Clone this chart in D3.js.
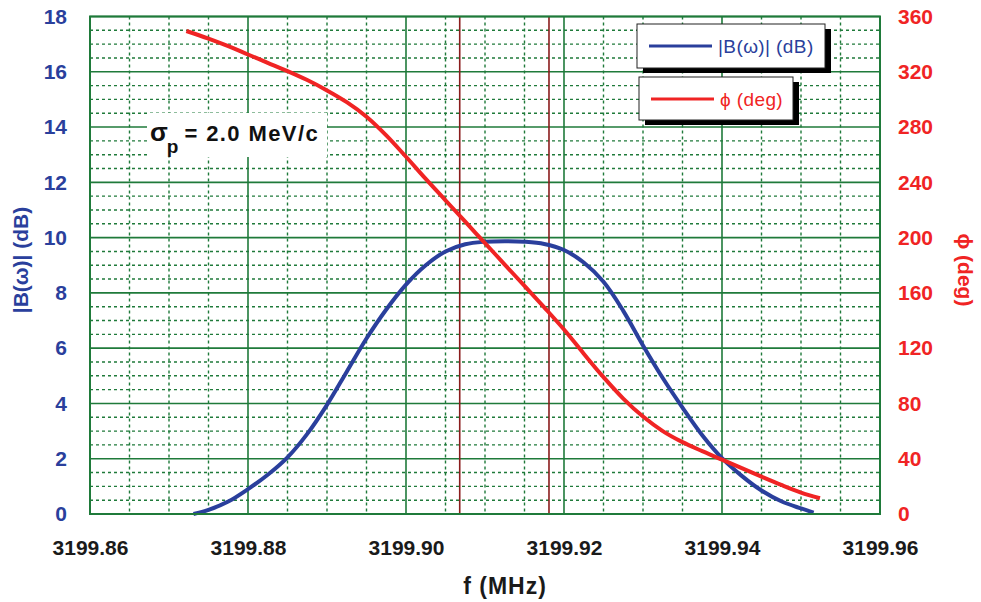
<!DOCTYPE html>
<html><head><meta charset="utf-8">
<script src="https://cdn.jsdelivr.net/npm/d3@7"></script>
<style>
html,body{margin:0;padding:0;background:#fff;}
svg{display:block;}
text{font-family:"Liberation Sans",Arial,sans-serif;}
</style></head>
<body>
<script>
// ---- data ----
const freqB = [3199.8731,3199.875,3199.8775,3199.88,3199.8825,3199.885,3199.8875,3199.89,3199.8925,3199.895,3199.8975,3199.90,3199.9025,3199.905,3199.9075,3199.91,3199.9125,3199.915,3199.9175,3199.92,3199.9225,3199.925,3199.9275,3199.93,3199.9325,3199.935,3199.9375,3199.94,3199.9425,3199.945,3199.9475,3199.95,3199.9516];
const magB  = [0,0.15,0.45,0.9,1.42,2.05,2.9,3.95,5.15,6.35,7.4,8.3,9.0,9.5,9.76,9.85,9.87,9.85,9.77,9.55,9.1,8.4,7.35,6.1,4.92,3.85,2.85,2.02,1.38,0.85,0.46,0.2,0.05];
const freqP = [3199.8722,3199.875,3199.8775,3199.88,3199.8825,3199.885,3199.8875,3199.89,3199.8925,3199.895,3199.8975,3199.90,3199.9025,3199.905,3199.9075,3199.91,3199.9125,3199.915,3199.9175,3199.92,3199.9225,3199.925,3199.9275,3199.93,3199.9325,3199.935,3199.9375,3199.94,3199.9425,3199.945,3199.9475,3199.95,3199.9524];
const phaseP = [349.5,344,338.5,332.5,326.5,320.5,314,306.5,298,287.5,274,258.5,242.5,227,211.5,196,180.5,165,149.5,133.5,116,99,83.5,70.5,60,52,45.5,39.3,33.2,27,21,15.5,11.4];
const markerFreqs = [3199.9068,3199.9181];
const xTicks = [3199.86,3199.88,3199.90,3199.92,3199.94,3199.96];
const yLeftTicks = [0,2,4,6,8,10,12,14,16,18];
const yRightTicks = [0,40,80,120,160,200,240,280,320,360];
const seriesNames = ["|B(\u03c9)| (dB)","\u03d5 (deg)"];
const xTitle = "f (MHz)";
const yLeftTitle = "|B(\u03c9)| (dB)";
const yRightTitle = "\u03d5 (deg)";

// ---- layout ----
const W=981,H=602;
const L=90,R=880,T=16.5,B=514;
const blue="#2a3f9c", red="#f02424", green="#1f7a3a", dark="#8a1c1c";

const svg=d3.select("body").append("svg").attr("width",W).attr("height",H);
const x=d3.scaleLinear().domain([3199.86,3199.96]).range([L,R]);
const yL=d3.scaleLinear().domain([0,18]).range([B,T]);
const yR=d3.scaleLinear().domain([0,360]).range([B,T]);

// minor grid
const g=svg.append("g");
const minorX=d3.range(0,21).map(i=>3199.86+i*0.005).filter((d,i)=>i%4!==0);
const minorY=d3.range(0,37).map(i=>i*0.5).filter((d,i)=>i%4!==0);
g.selectAll(".mx").data(minorX).join("line")
  .attr("x1",d=>x(d)).attr("x2",d=>x(d)).attr("y1",T).attr("y2",B)
  .attr("stroke",green).attr("stroke-width",1.4).attr("stroke-dasharray","3,3");
g.selectAll(".my").data(minorY).join("line")
  .attr("y1",d=>yL(d)).attr("y2",d=>yL(d)).attr("x1",L).attr("x2",R)
  .attr("stroke",green).attr("stroke-width",1.4).attr("stroke-dasharray","3,3");
// major grid
g.selectAll(".Mx").data(xTicks).join("line")
  .attr("x1",d=>x(d)).attr("x2",d=>x(d)).attr("y1",T).attr("y2",B)
  .attr("stroke",green).attr("stroke-width",1.6);
g.selectAll(".My").data(yLeftTicks).join("line")
  .attr("y1",d=>yL(d)).attr("y2",d=>yL(d)).attr("x1",L).attr("x2",R)
  .attr("stroke",green).attr("stroke-width",1.6);

// sigma label box
svg.append("rect").attr("x",147).attr("y",113).attr("width",180).attr("height",44).attr("fill","#fff");
const st=svg.append("text").attr("x",150).attr("y",141).attr("font-weight","bold").attr("font-size",22).attr("fill","#111");
st.append("tspan").attr("font-size",26).text("\u03c3");
st.append("tspan").attr("font-size",19).attr("dy",12).attr("dx",-1).text("p");
st.append("tspan").attr("dy",-12).attr("dx",6).attr("letter-spacing",1.4).text("= 2.0 MeV/c");

// markers
svg.selectAll(".mk").data(markerFreqs).join("line")
  .attr("x1",d=>x(d)).attr("x2",d=>x(d)).attr("y1",T).attr("y2",B)
  .attr("stroke",dark).attr("stroke-width",1.6);

// curves
const lineB=d3.line().x((d,i)=>x(freqB[i])).y(d=>yL(d)).curve(d3.curveCatmullRom.alpha(0.5));
const lineP=d3.line().x((d,i)=>x(freqP[i])).y(d=>yR(d)).curve(d3.curveCatmullRom.alpha(0.5));
svg.append("path").attr("d",lineB(magB)).attr("fill","none").attr("stroke",blue).attr("stroke-width",4);
svg.append("path").attr("d",lineP(phaseP)).attr("fill","none").attr("stroke",red).attr("stroke-width",4);

// axes (labels via d3 axes)
const fs=21;
const ax=svg.append("g").attr("transform",`translate(0,${B})`)
  .call(d3.axisBottom(x).tickValues(xTicks).tickFormat(d3.format(".2f")).tickSize(0).tickPadding(26));
ax.select(".domain").remove();
ax.selectAll("text").attr("font-size",fs).attr("font-weight","bold").attr("fill","#1a1a1a").attr("font-family","Liberation Sans, Arial, sans-serif");
const ayl=svg.append("g").attr("transform",`translate(${L},0)`)
  .call(d3.axisLeft(yL).tickValues(yLeftTicks).tickSize(0).tickPadding(23));
ayl.select(".domain").remove();
ayl.selectAll("text").attr("font-size",fs).attr("font-weight","bold").attr("fill",blue).attr("font-family","Liberation Sans, Arial, sans-serif");
const ayr=svg.append("g").attr("transform",`translate(${R},0)`)
  .call(d3.axisRight(yR).tickValues(yRightTicks).tickSize(0).tickPadding(18));
ayr.select(".domain").remove();
ayr.selectAll("text").attr("font-size",fs).attr("font-weight","bold").attr("fill",red).attr("font-family","Liberation Sans, Arial, sans-serif");

// frame
svg.append("rect").attr("x",L).attr("y",T).attr("width",R-L).attr("height",B-T)
  .attr("fill","none").attr("stroke",green).attr("stroke-width",2);

// titles
svg.append("text").attr("x",505).attr("y",594).attr("text-anchor","middle")
  .attr("font-size",23).attr("font-weight","bold").attr("fill","#1a1a1a").attr("letter-spacing",1).text(xTitle);
svg.append("text").attr("transform","translate(28,260) rotate(-90)").attr("text-anchor","middle")
  .attr("font-size",21).attr("font-weight","bold").attr("fill",blue).text(yLeftTitle);
svg.append("text").attr("transform","translate(958,270) rotate(90)").attr("text-anchor","middle")
  .attr("font-size",21).attr("font-weight","bold").attr("fill",red).text(yRightTitle);

// legend
const leg=[{x:637,y:24,w:188,h:44,c:blue,t:seriesNames[0]},{x:639,y:77,w:154,h:43,c:red,t:seriesNames[1]}];
leg.forEach(l=>{
  svg.append("rect").attr("x",l.x+6).attr("y",l.y+5).attr("width",l.w).attr("height",l.h).attr("fill","#000");
  svg.append("rect").attr("x",l.x).attr("y",l.y).attr("width",l.w).attr("height",l.h).attr("fill","#fff").attr("stroke","#222").attr("stroke-width",1);
  svg.append("line").attr("x1",l.x+12).attr("x2",l.x+75).attr("y1",l.y+22).attr("y2",l.y+22).attr("stroke",l.c).attr("stroke-width",3);
  svg.append("text").attr("x",l.x+81).attr("y",l.y+29).attr("font-size",19).attr("letter-spacing",0.4).attr("fill",l.c).text(l.t);
});
</script>
</body></html>
